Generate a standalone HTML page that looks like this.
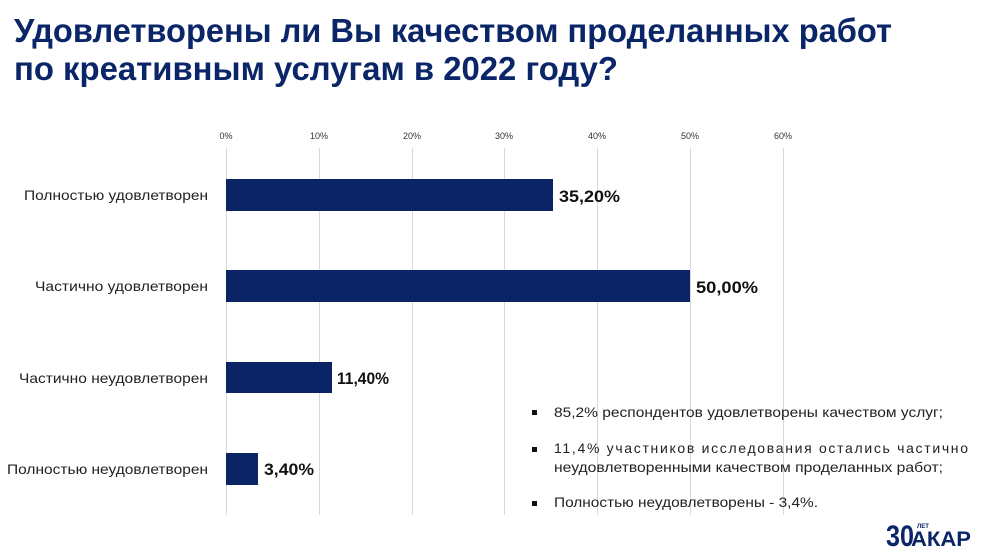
<!DOCTYPE html>
<html><head><meta charset="utf-8"><style>
html,body{margin:0;padding:0;background:#fff;}
svg{display:block;font-family:"Liberation Sans","DejaVu Sans",sans-serif;}
</style></head><body>
<svg width="988" height="558" viewBox="0 0 988 558" xmlns="http://www.w3.org/2000/svg">
<g fill="#0b2668" font-weight="bold" font-size="33">
<text x="14" y="42" textLength="878" lengthAdjust="spacingAndGlyphs">Удовлетворены ли Вы качеством проделанных работ</text>
<text x="14" y="80" textLength="604" lengthAdjust="spacingAndGlyphs">по креативным услугам в 2022 году?</text>
</g>
<g stroke="#d9d9d9" stroke-width="1">
<line x1="226.5" y1="148" x2="226.5" y2="515"/>
<line x1="319.5" y1="148" x2="319.5" y2="515"/>
<line x1="412.5" y1="148" x2="412.5" y2="515"/>
<line x1="504.5" y1="148" x2="504.5" y2="515"/>
<line x1="597.5" y1="148" x2="597.5" y2="515"/>
<line x1="690.5" y1="148" x2="690.5" y2="515"/>
<line x1="783.5" y1="148" x2="783.5" y2="515"/>
</g>
<g font-size="9" fill="#333" text-anchor="middle">
<text x="226" y="139">0%</text><text x="319" y="139">10%</text><text x="412" y="139">20%</text>
<text x="504" y="139">30%</text><text x="597" y="139">40%</text><text x="690" y="139">50%</text><text x="783" y="139">60%</text>
</g>
<g fill="#0b2466">
<rect x="226" y="179" width="327" height="32"/>
<rect x="226" y="270" width="464" height="32"/>
<rect x="226" y="362" width="106" height="31"/>
<rect x="226" y="453" width="32" height="32"/>
</g>
<g font-size="14" fill="#222">
<text x="24" y="200" textLength="184" lengthAdjust="spacingAndGlyphs">Полностью удовлетворен</text>
<text x="35" y="291" textLength="173" lengthAdjust="spacingAndGlyphs">Частично удовлетворен</text>
<text x="19" y="383" textLength="189" lengthAdjust="spacingAndGlyphs">Частично неудовлетворен</text>
<text x="7" y="474" textLength="201" lengthAdjust="spacingAndGlyphs">Полностью неудовлетворен</text>
</g>
<g font-size="17" font-weight="bold" fill="#111">
<text x="559" y="202" textLength="61" lengthAdjust="spacingAndGlyphs">35,20%</text>
<text x="696" y="293" textLength="62" lengthAdjust="spacingAndGlyphs">50,00%</text>
<text x="337" y="384" textLength="52" lengthAdjust="spacingAndGlyphs">11,40%</text>
<text x="264" y="475" textLength="50" lengthAdjust="spacingAndGlyphs">3,40%</text>
</g>
<g fill="#111"><rect x="532" y="410" width="5" height="5"/><rect x="532" y="447" width="5" height="5"/><rect x="532" y="501" width="5" height="5"/></g>
<g font-size="14" fill="#222">
<text x="554" y="417" textLength="389" lengthAdjust="spacingAndGlyphs">85,2% респондентов удовлетворены качеством услуг;</text>
<text x="554" y="453" textLength="414" lengthAdjust="spacing">11,4% участников исследования остались частично</text>
<text x="554" y="472" textLength="389" lengthAdjust="spacingAndGlyphs">неудовлетворенными качеством проделанных работ;</text>
<text x="554" y="507" textLength="264" lengthAdjust="spacingAndGlyphs">Полностью неудовлетворены - 3,4%.</text>
</g>
<g fill="#0b2668" font-weight="bold">
<text x="886" y="546" font-size="30" textLength="28" lengthAdjust="spacingAndGlyphs">30</text>
<text x="917" y="528" font-size="6">ЛЕТ</text>
<text x="911" y="546" font-size="21" textLength="60" lengthAdjust="spacingAndGlyphs">АКАР</text>
</g>
</svg>
</body></html>
